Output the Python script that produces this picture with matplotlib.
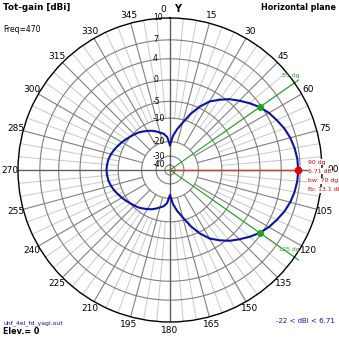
import numpy as np
import matplotlib
matplotlib.use("Agg")
import matplotlib.pyplot as plt

# ---------------- data ----------------
angles_deg = [0, 5, 10, 15, 20, 25, 30, 35, 40, 45, 50, 55, 60, 65, 70, 75, 80, 85,
              90, 95, 100, 105, 110, 115, 120, 125, 130, 135, 140, 145, 150, 155, 160,
              165, 170, 175, 180, 185, 190, 195, 200, 205, 210, 215, 220, 225, 230, 235,
              240, 245, 250, 255, 260, 265, 270, 275, 280, 285, 290, 295, 300, 305, 310,
              315, 320, 325, 330, 335, 340, 345, 350, 355, 360]
gain_dbi = [-22.0, -17.0, -13.8, -11.0, -7.6, -4.7, -2.4, -0.9, 0.5, 1.6, 2.7, 3.71, 4.5,
            5.1, 5.7, 6.15, 6.45, 6.65,
            6.71, 6.65, 6.45, 6.15, 5.7, 5.1, 4.5, 3.71, 2.7, 1.6, 0.5, -0.9, -2.4, -4.7,
            -7.6, -11.0, -13.8, -17.0,
            -22.0, -17.5, -15.8, -15.0, -14.0, -13.1, -12.4, -11.7, -11.0, -10.5, -10.0,
            -9.4, -8.8, -8.2, -7.6, -7.1, -6.7, -6.5,
            -6.39, -6.5, -6.7, -7.1, -7.6, -8.2, -8.8, -9.4, -10.0, -10.5, -11.0, -11.7,
            -12.4, -13.1, -14.0, -15.0, -15.8, -17.5, -22.0]

ring_db = [10, 7, 4, 0, -5, -10, -20, -30, -40]
ring_labels = ["10", "7", "4", "0", "-5", "-10", "-20", "-30", "-40"]
tick_angles = list(range(0, 360, 15))
tick_labels = [str(a) for a in tick_angles]

max_angle, max_gain = 90, 6.71
bw_angles = [55, 125]
bw_gain = 3.71

# ---------------- scale (4nec2-like log radial scale) ----------------
A, K, C = 99.2, 0.04855, -9.2
def fwd(d):
    return A * np.exp(K * np.asarray(d, dtype=float)) + C
def inv(r):
    return np.log(np.maximum(np.asarray(r, dtype=float) - C, 1e-9) / A) / K
R_MIN = float(inv(0.0))
R_LABEL = float(inv(160.0))

fig = plt.figure(figsize=(3.39, 3.39), dpi=100)
ax = fig.add_axes([18/339, 17/339, 304/339, 304/339], projection="polar")
ax.set_theta_zero_location("N")
ax.set_theta_direction(-1)
ax.set_rscale("function", functions=(fwd, inv))
ax.set_rlim(R_MIN, 10)
ax.grid(False)
ax.set_yticks([])
ax.set_xticks([])
ax.spines["polar"].set_color("black")
ax.spines["polar"].set_linewidth(1.0)

th_full = np.linspace(0, 2*np.pi, 721)
# rings
for d in ring_db[1:]:
    ax.plot(th_full, np.full_like(th_full, d), color="#7f7f7f", lw=0.8, zorder=1)
# light spokes every 5 deg
for a in range(0, 360, 5):
    if a % 15 == 0:
        continue
    ax.plot([np.deg2rad(a)]*2, [-10, 10], color="#c8c8c8", lw=0.7, zorder=0.5)
# dark spokes every 15 deg
for a in tick_angles:
    if a % 90 == 0:
        continue
    ax.plot([np.deg2rad(a)]*2, [-20, 10], color="#7f7f7f", lw=0.8, zorder=1)
# main axes
for a in [0, 90, 180, 270]:
    ax.plot([np.deg2rad(a), np.deg2rad(a)], [R_MIN, 10], color="#606060", lw=1.0, zorder=1.2)

# angle labels
for a, lab in zip(tick_angles, tick_labels):
    if a == 0:
        ax.annotate(lab, xy=(0, R_LABEL), xytext=(-4, 0), textcoords="offset pixels",
                    fontsize=6.5, ha="right", va="center", annotation_clip=False)
    elif a == 90:
        ax.annotate(lab, xy=(np.deg2rad(a), R_LABEL), xytext=(3, 0), textcoords="offset pixels",
                    fontsize=6.5, ha="center", va="center", annotation_clip=False)
    else:
        ax.text(np.deg2rad(a), R_LABEL, lab, fontsize=6.5, ha="center", va="center",
                clip_on=False)

# radial labels
for d, lab in zip(ring_db, ring_labels):
    ax.annotate(lab, xy=(0, d), xytext=(-17, 0), textcoords="offset pixels",
                fontsize=5.5, ha="left", va="center", color="black", zorder=3)

# beamwidth lines
green = "#22a022"
for a in bw_angles:
    ax.plot([np.deg2rad(a)]*2, [R_MIN, 10.6], color=green, lw=0.8, zorder=2, clip_on=False)
# max line
ax.plot([np.deg2rad(max_angle)]*2, [R_MIN, max_gain], color="#d04040", lw=1.0, zorder=2)

# pattern
th = np.deg2rad(angles_deg)
ax.plot(th, gain_dbi, color="#0a14a0", lw=1.5, zorder=4)
ax.plot(np.deg2rad(bw_angles), [bw_gain]*2, "o", color=green, ms=4, zorder=5)
ax.plot([np.deg2rad(max_angle)], [max_gain], "o", color="#e00000", ms=4.5, zorder=5)

# texts
fig.text(3/339, 1-8/339, "Tot-gain [dBi]", fontsize=6.3, fontweight="bold", va="center", ha="left")
fig.text(3/339, 1-30/339, "Freq=470", fontsize=5.5, va="center", ha="left")
fig.text(336/339, 1-8/339, "Horizontal plane", fontsize=5.8, fontweight="bold", va="center", ha="right")
fig.text(174/339, 1-9/339, "Y", fontsize=7, fontweight="bold", va="center", ha="left")
fig.text(3/339, 1-323/339, "uhf_4el_fd_yagi.out", fontsize=4.4, color="#1010a0", va="center", ha="left")
fig.text(3/339, 1-332/339, "Elev.= 0", fontsize=5.8, fontweight="bold", va="center", ha="left")
fig.text(335/339, 1-321/339, "-22 < dBi < 6.71", fontsize=5.0, color="#1010c0", va="center", ha="right")

red = "#e00000"
for i, s in enumerate(["90 dg", "6.71 dB", "bw: 70 dg", "fb: 13.1 dB"]):
    fig.text(308/339, 1-(162 + i*9.3)/339, s, fontsize=4.4, color=red, va="center", ha="left",
             bbox=dict(facecolor="white", edgecolor="none", pad=0.3), zorder=6)
fig.text(282/339, 1-75/339, "55 dg", fontsize=4.4, color=green, va="center", ha="left")
fig.text(279/339, 1-249/339, "125 dg", fontsize=4.2, color=green, va="center", ha="left")

fig.savefig("out.png", dpi=100)
